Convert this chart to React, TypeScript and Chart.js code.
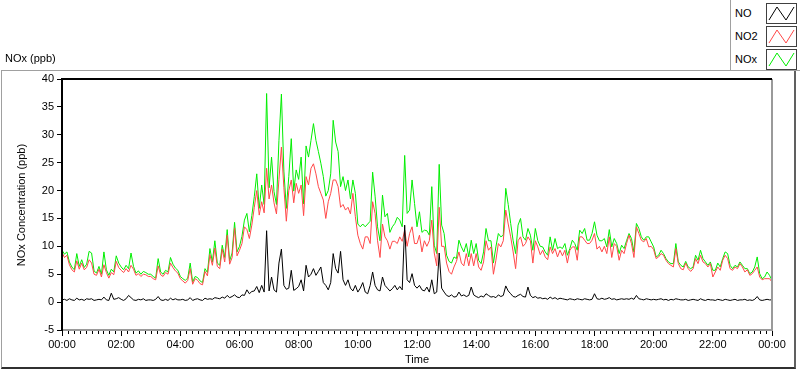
import React, { useEffect, useRef } from "react";
import { Chart, registerables } from "chart.js";
Chart.register(...registerables);

// 5-minute samples, 00:00 .. 24:00 (289 points)
const STEP_MIN = 5;

const NO_PPB = [
  0.4, 0.5, 0.3, 0.6, 0.4, 0.3, 0.7, 0.4, 0.5, 0.3, 0.6, 0.5,
  0.6, 0.3, 0.4, 0.5, 0.4, 0.9, 0.4, 0.3, 1.6, 0.5, 0.6, 0.8,
  0.5, 0.3, 0.6, 1.2, 0.8, 0.4, 0.3, 0.5, 0.4, 0.6, 0.3, 0.4,
  0.4, 0.3, 0.5, 1.0, 0.4, 0.3, 0.5, 0.3, 0.7, 0.4, 0.6, 0.4,
  0.4, 0.5, 0.3, 0.4, 0.8, 0.3, 0.5, 0.6, 0.4, 0.3, 0.7, 0.5,
  0.6, 0.5, 0.8, 0.7, 0.6, 0.9, 0.7, 1.2, 0.8, 1.0, 1.3, 0.9,
  0.8, 1.3, 1.2, 2.2, 1.5, 1.9, 2.0, 2.8, 1.7, 3.0, 1.8, 12.8,
  2.0, 4.5, 2.2, 1.8, 7.0, 9.5, 3.0, 2.3, 2.5, 5.7, 2.1, 2.4,
  2.8, 4.0, 2.0, 6.6, 4.5, 5.0, 6.0, 4.8, 5.5, 6.3, 3.5, 3.0,
  2.2, 3.5, 8.7, 6.0, 5.2, 9.1, 4.0, 3.0, 4.0, 2.5, 2.0, 3.0,
  1.8, 2.5, 3.5, 1.8, 1.5, 3.0, 5.4, 3.0, 2.2, 2.0, 4.5, 3.0,
  2.5, 2.0, 2.4, 3.0, 2.2, 2.8, 2.2, 13.8, 4.0, 3.5, 5.1, 3.0,
  2.5, 3.0, 2.2, 2.0, 2.7, 1.8, 4.0, 1.5, 1.8, 8.8, 2.5, 1.8,
  1.2, 1.0, 1.3, 0.9, 1.0, 1.8, 1.1, 1.3, 1.0, 1.2, 2.7, 1.3,
  1.0, 0.8, 1.1, 0.9, 1.5, 1.2, 0.9, 1.0, 0.8, 1.3, 1.0, 1.2,
  2.9, 2.0, 1.5, 1.0, 0.9, 1.2, 1.4, 1.0, 0.9, 2.7, 1.2, 0.8,
  1.0, 0.7, 0.8, 0.6, 0.7, 0.5, 0.9, 0.6, 0.8, 0.5, 0.7, 0.6,
  0.5, 0.4, 0.6, 0.5, 0.4, 0.6, 0.5, 0.4, 0.6, 0.5, 0.4, 0.5,
  1.5, 0.6, 0.5, 0.7, 0.5, 0.6, 0.8, 0.5, 0.6, 0.4, 0.5, 0.6,
  0.5, 0.6, 0.5, 0.7, 0.5, 1.2, 0.6, 0.5, 0.4, 0.6, 0.5, 0.4,
  0.5, 0.4, 0.5, 0.6, 0.4, 0.5, 0.3, 0.5, 0.4, 0.6, 0.5, 0.4,
  0.4, 0.5, 0.3, 0.4, 0.5, 0.4, 0.3, 0.6, 0.4, 0.3, 0.5, 0.4,
  0.4, 0.3, 0.5, 0.4, 0.3, 0.5, 0.4, 0.3, 0.4, 0.5, 0.3, 0.4,
  0.4, 0.5, 0.3, 0.4, 0.3, 0.5, 1.0, 0.4, 0.3, 0.4, 0.5, 0.4,
  0.4,
];

const NO2_PPB = [
  8.9, 8.0, 8.4, 6.7, 5.8, 5.4, 7.4, 5.9, 7.0, 5.8, 6.2, 7.6,
  7.0, 5.0, 4.8, 5.9, 4.5, 6.7, 5.3, 4.3, 5.3, 4.9, 7.3, 6.2,
  5.7, 5.3, 6.0, 5.4, 6.6, 5.9, 4.8, 5.1, 4.6, 5.0, 4.9, 4.6,
  4.6, 4.2, 4.0, 6.5, 4.9, 4.6, 5.3, 5.0, 7.0, 6.2, 5.6, 5.2,
  4.2, 3.8, 3.4, 3.9, 6.0, 3.2, 4.2, 3.9, 3.3, 3.1, 5.5, 4.7,
  8.5, 6.6, 9.7, 6.4, 6.0, 9.5, 7.2, 12.0, 6.8, 8.0, 13.3, 8.3,
  9.3, 10.5, 13.5, 13.0, 11.4, 13.8, 17.0, 20.0, 15.6, 18.0, 16.0, 24.0,
  18.5, 21.0, 17.8, 15.8, 22.0, 27.8, 20.5, 14.5, 20.0, 21.9, 17.8, 21.3,
  19.5, 21.0, 15.5, 22.5, 21.0, 24.0, 24.8, 23.0, 20.7, 19.5, 18.3, 15.0,
  18.0, 19.5, 21.9, 21.9, 20.7, 17.0, 17.5, 16.5, 17.0, 15.8, 19.5, 15.3,
  12.0, 10.5, 9.5, 11.7, 11.7, 10.5, 18.0, 15.9, 11.0, 8.0, 14.0, 11.7,
  11.0, 9.5, 10.9, 10.9, 10.5, 11.7, 10.9, 12.9, 10.0, 12.3, 13.5, 10.5,
  10.5, 12.0, 9.0, 11.0, 10.0, 11.0, 14.7, 8.8, 6.5, 17.0, 10.0, 10.0,
  7.0, 5.5, 5.0, 6.3, 7.3, 9.0, 7.0, 6.5, 8.7, 6.5, 8.7, 6.5,
  8.7, 6.3, 5.7, 7.2, 11.0, 9.3, 9.9, 5.0, 7.5, 10.5, 9.9, 11.0,
  16.5, 14.0, 11.7, 9.0, 6.0, 11.0, 11.7, 10.0, 10.5, 11.7, 11.0, 7.0,
  11.0, 9.9, 8.5, 9.3, 8.1, 7.6, 9.9, 8.7, 9.6, 8.1, 9.3, 8.3,
  9.3, 7.0, 9.3, 9.9, 9.9, 7.5, 11.7, 11.7, 11.1, 10.5, 10.5, 11.1,
  12.3, 9.5, 10.0, 9.0, 10.0, 8.7, 11.7, 8.0, 10.5, 10.0, 7.5, 9.3,
  8.7, 10.5, 12.0, 10.5, 8.0, 13.5, 12.3, 11.1, 10.8, 11.4, 9.9, 10.0,
  9.4, 7.8, 8.1, 8.7, 8.4, 7.5, 6.9, 6.6, 6.3, 9.6, 6.9, 6.0,
  5.8, 7.0, 6.0, 5.5, 6.0, 7.8, 6.9, 8.4, 7.2, 6.9, 6.3, 6.9,
  4.5, 5.4, 6.3, 5.7, 7.5, 8.4, 7.8, 6.0, 5.7, 6.3, 6.0, 6.9,
  6.3, 5.4, 5.8, 4.8, 5.1, 5.7, 6.3, 4.5, 4.0, 4.2, 4.2, 4.2,
  3.6,
];

const NOX_PPB = [
  9.3, 8.6, 9.0, 7.2, 6.3, 5.8, 8.7, 6.4, 7.6, 6.2, 6.8, 9.1,
  8.8, 5.6, 5.2, 6.4, 5.0, 9.0, 5.8, 4.8, 5.9, 5.4, 8.3, 7.0,
  6.3, 5.8, 6.6, 6.0, 8.8, 6.4, 5.2, 5.6, 5.0, 5.5, 5.3, 5.0,
  5.0, 4.6, 4.3, 7.8, 5.4, 5.0, 5.7, 5.4, 8.0, 6.8, 6.1, 5.7,
  4.6, 4.2, 3.9, 4.3, 7.0, 3.6, 4.6, 4.4, 3.8, 3.5, 6.0, 5.3,
  9.6, 7.2, 11.0, 7.0, 6.6, 10.2, 8.0, 13.0, 7.4, 8.8, 14.3, 9.0,
  10.0, 11.8, 14.7, 15.9, 12.6, 15.5, 18.9, 23.0, 16.8, 21.0, 17.5, 37.4,
  20.5, 26.0, 19.8, 17.5, 29.0, 37.3, 23.5, 16.8, 22.5, 29.3, 19.9, 23.7,
  22.0, 26.0, 17.6, 28.0, 26.0, 29.0, 32.0, 29.0, 27.0, 24.9, 22.5, 19.0,
  20.0, 23.0, 32.6, 28.7, 27.0, 20.7, 22.5, 20.0, 21.9, 18.5, 21.9, 19.5,
  14.0, 13.5, 14.0, 13.5, 14.0, 14.5, 23.3, 19.0, 13.5, 11.0, 19.2, 15.3,
  15.9, 12.5, 13.5, 14.1, 15.2, 14.7, 13.5, 26.3, 15.9, 16.5, 21.9, 17.7,
  13.5, 16.2, 12.5, 12.9, 12.8, 12.0, 20.7, 10.2, 8.7, 24.7, 13.8, 12.3,
  8.4, 7.3, 7.0, 8.1, 7.8, 11.1, 9.9, 9.0, 10.5, 8.1, 11.1, 8.7,
  10.5, 7.5, 6.9, 9.0, 13.2, 11.0, 11.0, 7.0, 9.9, 12.3, 11.7, 12.0,
  20.4, 17.5, 14.1, 11.0, 8.7, 13.8, 15.0, 11.7, 11.1, 13.2, 12.0, 9.3,
  13.2, 11.0, 10.0, 9.9, 9.0, 8.4, 11.7, 9.3, 11.4, 9.6, 9.9, 9.6,
  10.5, 8.4, 9.6, 11.1, 10.5, 9.3, 12.9, 12.3, 13.2, 11.1, 11.1, 12.3,
  14.4, 12.0, 11.0, 11.0, 11.4, 9.9, 13.0, 9.9, 11.4, 10.5, 8.7, 10.2,
  9.6, 11.0, 12.3, 11.4, 9.0, 14.1, 13.2, 11.7, 11.1, 11.7, 11.7, 10.8,
  9.9, 8.1, 8.4, 9.3, 8.7, 7.8, 7.2, 6.9, 6.9, 10.5, 7.2, 6.6,
  6.3, 7.3, 6.3, 6.0, 6.3, 8.4, 7.5, 9.3, 7.8, 7.2, 6.6, 7.2,
  5.7, 5.7, 7.0, 6.3, 7.8, 9.0, 8.7, 6.6, 6.0, 6.6, 6.3, 7.2,
  6.6, 6.0, 6.0, 5.1, 5.4, 6.3, 8.1, 5.1, 4.2, 4.5, 5.4, 4.8,
  3.9,
];

const SERIES_NAMES = ["NO", "NO2", "NOx"];
const SERIES_COLORS = ["#000000", "#ff4848", "#00ee00"];

const Y_MIN = -5;
const Y_MAX = 40;
const Y_STEP = 5;
const X_MAX_MIN = 1440;
const X_MAJOR_MIN = 120;
const X_MINOR_MIN = 12;

const FONT = "'Liberation Sans', Arial, sans-serif";

function fmtTime(m: number) {
  const h = Math.floor(m / 60) % 24;
  const mm = Math.round(m % 60);
  return String(h).padStart(2, "0") + ":" + String(mm).padStart(2, "0");
}

const framePlugin = {
  id: "labviewFrame",
  afterDraw(chart: any) {
    const { ctx, chartArea } = chart;
    const { left, right, top, bottom } = chartArea;
    const xs = chart.scales.x;
    ctx.save();
    // minor ticks
    ctx.strokeStyle = "#000";
    ctx.lineWidth = 1;
    ctx.beginPath();
    for (let m = 0; m <= X_MAX_MIN; m += X_MINOR_MIN) {
      if (m % X_MAJOR_MIN === 0) continue;
      const px = Math.round(xs.getPixelForValue(m)) + 0.5;
      ctx.moveTo(px, bottom + 1);
      ctx.lineTo(px, bottom + 4);
    }
    ctx.stroke();
    // borders
    ctx.strokeStyle = "#9a9a9a";
    ctx.lineWidth = 2;
    ctx.beginPath();
    ctx.moveTo(left, bottom);
    ctx.lineTo(right, bottom);
    ctx.lineTo(right, top);
    ctx.stroke();
    ctx.strokeStyle = "#000";
    ctx.lineWidth = 2;
    ctx.beginPath();
    ctx.moveTo(left, bottom + 1);
    ctx.lineTo(left, top);
    ctx.lineTo(right, top);
    ctx.stroke();
    ctx.restore();
  },
};

function LegendIcon({ color }: { color: string }) {
  return (
    <svg width={31} height={21} style={{ display: "block" }}>
      <rect x={0.5} y={0.5} width={30} height={20} fill="#fff" stroke="#404040" />
      <polyline
        points="3,17 11,4 20,17 28,4"
        fill="none"
        stroke={color}
        strokeWidth={1}
      />
    </svg>
  );
}

export default function App() {
  const canvasRef = useRef<HTMLCanvasElement | null>(null);

  useEffect(() => {
    const canvas = canvasRef.current;
    if (!canvas) return;
    const times = NO_PPB.map((_, i) => i * STEP_MIN);
    const toPts = (arr: number[]) => arr.map((v, i) => ({ x: times[i], y: v }));
    const all = [NO_PPB, NO2_PPB, NOX_PPB];
    const chart = new Chart(canvas, {
      type: "line",
      data: {
        datasets: all.map((arr, i) => ({
          label: SERIES_NAMES[i],
          data: toPts(arr),
          borderColor: SERIES_COLORS[i],
          backgroundColor: SERIES_COLORS[i],
          borderWidth: 1,
          pointRadius: 0,
          tension: 0,
          fill: false,
        })),
      },
      options: {
        animation: false,
        responsive: false,
        devicePixelRatio: 1,
        events: [],
        layout: { padding: { left: 0, top: 79, right: 28, bottom: 0 } },
        plugins: {
          legend: { display: false },
          tooltip: { enabled: false },
          title: { display: false },
        },
        scales: {
          x: {
            type: "linear",
            min: 0,
            max: X_MAX_MIN,
            border: { display: false },
            grid: {
              display: true,
              drawOnChartArea: false,
              drawTicks: true,
              tickLength: 6,
              color: "#000",
            },
            ticks: {
              stepSize: X_MAJOR_MIN,
              autoSkip: false,
              maxRotation: 0,
              padding: 2,
              color: "#000",
              font: { family: FONT, size: 11 },
              callback: (v: any) => fmtTime(Number(v)),
            },
            afterFit: (s: any) => {
              s.height = 39;
            },
          },
          y: {
            type: "linear",
            min: Y_MIN,
            max: Y_MAX,
            border: { display: false },
            grid: {
              display: true,
              drawOnChartArea: false,
              drawTicks: true,
              tickLength: 5,
              color: "#000",
            },
            ticks: {
              stepSize: Y_STEP,
              padding: 3,
              color: "#000",
              font: { family: FONT, size: 11 },
            },
            afterFit: (s: any) => {
              s.width = 62;
            },
          },
        },
      },
      plugins: [framePlugin],
    } as any);
    return () => chart.destroy();
  }, []);

  const text: React.CSSProperties = {
    position: "absolute",
    fontFamily: FONT,
    fontSize: 11,
    color: "#000",
    lineHeight: "13px",
    whiteSpace: "nowrap",
  };

  return (
    <div
      style={{
        position: "fixed",
        left: 0,
        top: 0,
        width: 800,
        height: 369,
        background: "#fff",
        overflow: "hidden",
      }}
    >
      {/* outer frame */}
      <div
        style={{
          position: "absolute",
          left: 1,
          top: 70,
          width: 792,
          height: 296,
          borderLeft: "1px solid #a0a0a0",
          borderTop: "1px solid #a0a0a0",
          borderRight: "2px solid #606060",
          borderBottom: "2px solid #303030",
        }}
      />
      <canvas
        ref={canvasRef}
        width={800}
        height={369}
        style={{ position: "absolute", left: 0, top: 0, width: 800, height: 369 }}
      />
      <div style={{ ...text, left: 5, top: 52 }}>NOx (ppb)</div>
      <div style={{ ...text, left: 62, width: 710, top: 353, textAlign: "center" }}>Time</div>
      <div
        style={{
          ...text,
          left: 21 - 125,
          top: 205 - 7,
          width: 250,
          height: 14,
          lineHeight: "14px",
          textAlign: "center",
          transform: "rotate(-90deg)",
        }}
      >
        NOx Concentration (ppb)
      </div>
      {/* legend */}
      <div
        style={{
          position: "absolute",
          left: 730,
          top: -1,
          width: 69,
          height: 71,
          borderLeft: "1px solid #a0a0a0",
          borderBottom: "1px solid #a0a0a0",
          background: "#fff",
        }}
      >
        {SERIES_NAMES.map((name, i) => (
          <div
            key={name}
            style={{ position: "absolute", left: 0, top: 4 + i * 23, width: 69, height: 21 }}
          >
            <div style={{ ...text, left: 4, top: 4 }}>{name}</div>
            <div style={{ position: "absolute", left: 35, top: 0 }}>
              <LegendIcon color={SERIES_COLORS[i]} />
            </div>
          </div>
        ))}
      </div>
    </div>
  );
}
